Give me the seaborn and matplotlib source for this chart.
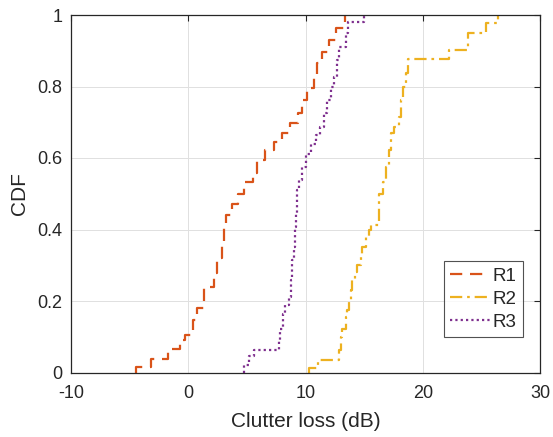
import matplotlib
matplotlib.use("Agg")
import matplotlib.pyplot as plt
import seaborn as sns
import pandas as pd

# Empirical CDF steps: x where each step occurs, and CDF level after it
r1_x = [-4.42, -3.15, -1.72, -0.71, -0.28, 0.43, 0.71, 1.32, 2.23, 2.44, 2.84, 3.04,
        3.25, 3.71, 4.26, 4.72, 5.48, 5.86, 6.57, 7.28, 8.0, 8.72, 9.33, 9.72, 10.15,
        10.71, 11.0, 11.43, 11.99, 12.57, 13.39]
r1_cdf = [0.015, 0.038, 0.066, 0.09, 0.106, 0.146, 0.18, 0.24, 0.277, 0.32, 0.36, 0.407,
          0.44, 0.47, 0.5, 0.533, 0.557, 0.594, 0.622, 0.645, 0.669, 0.697, 0.725, 0.762,
          0.795, 0.83, 0.865, 0.897, 0.93, 0.963, 1.0]

r2_x = [10.29, 11.06, 12.85, 12.99, 13.14, 13.42, 13.58, 13.7, 13.86, 14.0, 14.2, 14.43,
        14.71, 14.86, 15.14, 15.42, 15.6, 16.28, 16.57, 16.84, 17.15, 17.29, 17.55, 18.0,
        18.14, 18.28, 18.57, 18.72, 22.28, 23.84, 25.43, 26.43]
r2_cdf = [0.012, 0.036, 0.062, 0.1, 0.122, 0.155, 0.174, 0.2, 0.23, 0.258, 0.281, 0.3,
          0.323, 0.351, 0.379, 0.4, 0.412, 0.5, 0.533, 0.575, 0.622, 0.669, 0.687, 0.715,
          0.762, 0.8, 0.837, 0.876, 0.902, 0.95, 0.979, 1.0]

r3_x = [4.72, 5.17, 5.58, 7.71, 7.86, 8.09, 8.29, 8.57, 8.73, 8.86, 9.0, 9.08, 9.2,
        9.29, 9.44, 9.72, 10.0, 10.43, 10.86, 11.26, 11.57, 11.86, 12.14, 12.43, 12.71,
        12.86, 13.42, 13.6, 15.0]
r3_cdf = [0.02, 0.045, 0.062, 0.09, 0.122, 0.164, 0.188, 0.21, 0.258, 0.314, 0.351, 0.407,
          0.444, 0.51, 0.538, 0.575, 0.612, 0.64, 0.664, 0.687, 0.725, 0.762, 0.8, 0.827,
          0.874, 0.911, 0.949, 0.98, 1.0]

series_names = ["R1", "R2", "R3"]
x_ticks = [-10, 0, 10, 20, 30]
y_ticks = [0, 0.2, 0.4, 0.6, 0.8, 1.0]
y_ticklabels = ["0", "0.2", "0.4", "0.6", "0.8", "1"]

colors = ["#D95319", "#EDB120", "#7E2F8E"]
linestyles = [(0, (5.5, 3.5)), (0, (5.5, 2.2, 1.2, 2.2)), (0, (1.0, 1.4))]

sns.set_theme(style="white")
plt.rcParams["font.family"] = ["Liberation Sans", "DejaVu Sans"]

fig = plt.figure(figsize=(5.53, 4.37), dpi=100)
ax = fig.add_axes([71 / 553, 1 - 372.5 / 437, 469 / 553, 357.5 / 437])

for name, xs, ys, col, ls in zip(series_names, [r1_x, r2_x, r3_x],
                                 [r1_cdf, r2_cdf, r3_cdf], colors, linestyles):
    df = pd.DataFrame({"x": [xs[0]] + list(xs), "cdf": [0.0] + list(ys)})
    sns.lineplot(data=df, x="x", y="cdf", ax=ax, color=col, linewidth=1.6,
                 linestyle=ls, drawstyle="steps-post", estimator=None, sort=False,
                 label=name)

ax.set_xlim(-10, 30)
ax.set_ylim(0, 1)
ax.set_xticks(x_ticks)
ax.set_xticklabels([str(t) for t in x_ticks])
ax.set_yticks(y_ticks)
ax.set_yticklabels(y_ticklabels)
ax.grid(True, color="#e0e0e0", linewidth=0.7)
ax.set_axisbelow(True)
for s in ax.spines.values():
    s.set_color("#262626")
    s.set_linewidth(0.9)
ax.tick_params(direction="in", length=4, width=0.8, color="#262626",
               top=True, right=True, labelsize=13, labelcolor="#262626")
ax.tick_params(axis="x", pad=9)
ax.tick_params(axis="y", pad=6)
ax.set_xlabel("Clutter loss (dB)", fontsize=15, color="#262626", labelpad=7)
ax.set_ylabel("CDF", fontsize=15, color="#262626", labelpad=6)

leg = ax.legend(loc="lower right", bbox_to_anchor=(0.964, 0.099), borderaxespad=0,
                fontsize=13.5, frameon=True, fancybox=False, handlelength=2.1,
                handletextpad=0.15, labelspacing=0.3, borderpad=0.35)
leg.get_frame().set_edgecolor("#262626")
leg.get_frame().set_linewidth(0.8)
for t in leg.get_texts():
    t.set_color("#262626")

fig.savefig("out.png", dpi=100)
